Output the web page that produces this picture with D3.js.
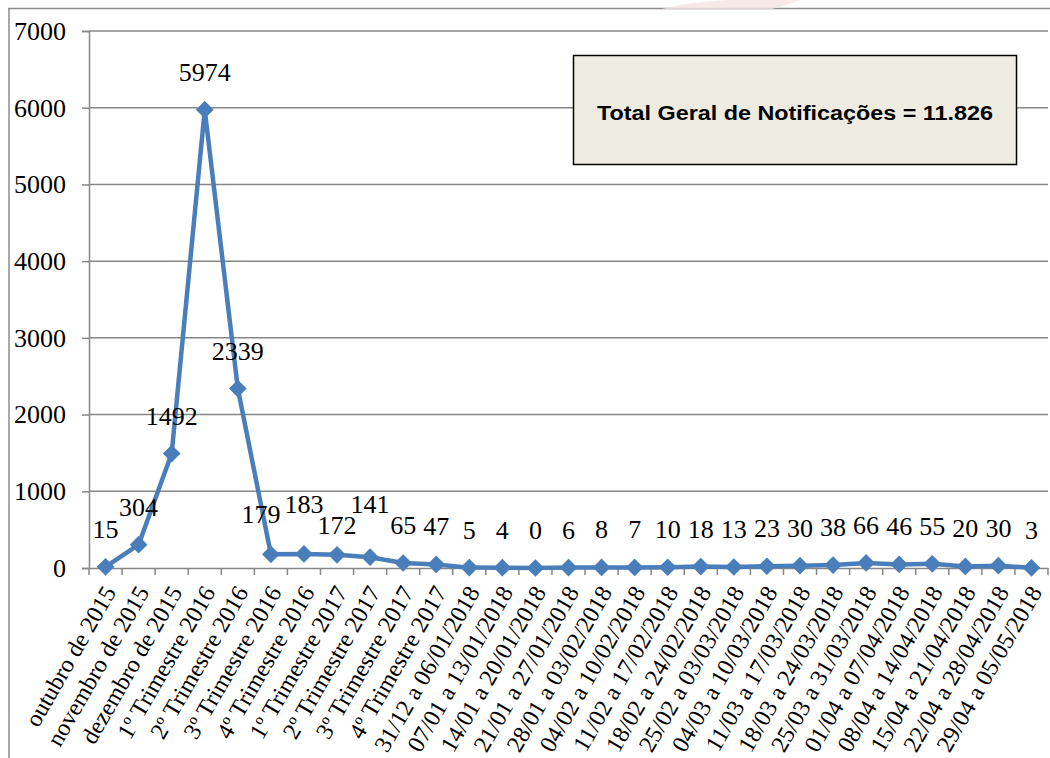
<!DOCTYPE html>
<html>
<head>
<meta charset="utf-8">
<script src="https://cdn.jsdelivr.net/npm/d3@7"></script>
<style>
  html, body { margin: 0; padding: 0; background: #ffffff; }
  svg { display: block; }
</style>
</head>
<body>
<svg id="chart" width="1050" height="758"></svg>
<script>
const categories = [
  "outubro de 2015", "novembro de 2015", "dezembro de 2015",
  "1º Trimestre 2016", "2º Trimestre 2016", "3º Trimestre 2016", "4º Trimestre 2016",
  "1º Trimestre 2017", "2º Trimestre 2017", "3º Trimestre 2017", "4º Trimestre 2017",
  "31/12 a 06/01/2018", "07/01 a 13/01/2018", "14/01 a 20/01/2018", "21/01 a 27/01/2018",
  "28/01 a 03/02/2018", "04/02 a 10/02/2018", "11/02 a 17/02/2018", "18/02 a 24/02/2018",
  "25/02 a 03/03/2018", "04/03 a 10/03/2018", "11/03 a 17/03/2018", "18/03 a 24/03/2018",
  "25/03 a 31/03/2018", "01/04 a 07/04/2018", "08/04 a 14/04/2018", "15/04 a 21/04/2018",
  "22/04 a 28/04/2018", "29/04 a 05/05/2018"
];
const values = [
  15, 304, 1492, 5974, 2339, 179, 183, 172, 141, 65, 47,
  5, 4, 0, 6, 8, 7, 10, 18, 13, 23, 30, 38, 66, 46, 55, 20, 30, 3
];
const yTicks = [0, 1000, 2000, 3000, 4000, 5000, 6000, 7000];
const totalLabel = "Total Geral de Notificações = 11.826";

// manual data-label nudges (label index -> [dx, dy]) as placed in the original
const labelNudge = { 5: [-10, -2], 6: [0, -12], 7: [0, 8], 8: [0, -15] };

const svg = d3.select("#chart");
const gridColor = "#868686";
const lineColor = "#4a7ebb";
const serif = "'Liberation Serif', 'Times New Roman', serif";

const plot = { left: 89, right: 1048, top: 31, bottom: 568 };

// outer frame
svg.append("line").attr("x1", 8).attr("x2", 1050).attr("y1", 8.5).attr("y2", 8.5)
  .attr("stroke", "#8c8c8c").attr("stroke-width", 1.5);
svg.append("line").attr("x1", 9).attr("x2", 9).attr("y1", 8).attr("y2", 758)
  .attr("stroke", "#8c8c8c").attr("stroke-width", 1.5);

// faint watermark fragment at top
svg.append("path")
  .attr("d", "M662,9 C690,2 720,0 735,0 L800,0 C790,4 780,7 772,9 Z")
  .attr("fill", "#f6e3e3").attr("opacity", 0.8);

const x = d3.scaleBand().domain(categories).range([plot.left, plot.right]);
const y = d3.scaleLinear().domain([0, 7000]).range([plot.bottom, plot.top]);

// gridlines
svg.append("g").selectAll("line").data(yTicks.filter(d => d > 0)).join("line")
  .attr("x1", plot.left).attr("x2", plot.right)
  .attr("y1", d => y(d)).attr("y2", d => y(d))
  .attr("stroke", gridColor).attr("stroke-width", 1.5);

// y axis
const yAxis = svg.append("g").attr("transform", `translate(${plot.left},0)`)
  .call(d3.axisLeft(y).tickValues(yTicks).tickSize(7).tickPadding(16).tickFormat(d3.format("d")));
yAxis.select(".domain").attr("stroke", gridColor).attr("stroke-width", 1.5);
yAxis.selectAll(".tick line").attr("stroke", gridColor).attr("stroke-width", 1.5);
yAxis.selectAll(".tick text")
  .attr("font-family", serif).attr("font-size", 26).attr("fill", "#000");

// x axis baseline and band-boundary ticks
const xAxis = svg.append("g").attr("transform", `translate(0,${plot.bottom})`)
  .call(d3.axisBottom(x).tickSize(0).tickPadding(0));
xAxis.select(".domain").attr("stroke", gridColor).attr("stroke-width", 1.5);
xAxis.selectAll(".tick text")
  .attr("font-family", serif).attr("font-size", 24).attr("fill", "#000")
  .attr("text-anchor", "end")
  .attr("dy", "0.35em")
  .attr("transform", `translate(4,20) rotate(-60)`);

const boundaries = categories.map(c => x(c)).concat([x.range()[1]]);
svg.append("g").selectAll("line").data(boundaries).join("line")
  .attr("x1", d => d).attr("x2", d => d)
  .attr("y1", plot.bottom).attr("y2", plot.bottom + 7)
  .attr("stroke", gridColor).attr("stroke-width", 1.5);

// line
const cx = (c) => x(c) + x.bandwidth() / 2;
const pts = categories.map((c, i) => ({ c, v: values[i], i }));
svg.append("path").datum(pts)
  .attr("fill", "none").attr("stroke", lineColor).attr("stroke-width", 4.5)
  .attr("stroke-linejoin", "round")
  .attr("d", d3.line().x(d => cx(d.c)).y(d => y(d.v)));

// diamond markers
const dsym = d3.symbol().type(d3.symbolDiamond2).size(200);
svg.append("g").selectAll("path").data(pts).join("path")
  .attr("d", dsym)
  .attr("transform", d => `translate(${cx(d.c)},${y(d.v)})`)
  .attr("fill", lineColor);

// data labels
svg.append("g").selectAll("text").data(pts).join("text")
  .attr("x", d => cx(d.c) + (labelNudge[d.i] ? labelNudge[d.i][0] : 0))
  .attr("y", d => y(d.v) - 29 + (labelNudge[d.i] ? labelNudge[d.i][1] : 0))
  .attr("text-anchor", "middle")
  .attr("font-family", serif).attr("font-size", 26).attr("fill", "#000")
  .text(d => d.v);

// total box
svg.append("rect").attr("x", 573.5).attr("y", 55.5).attr("width", 443).attr("height", 109)
  .attr("fill", "#eeece1").attr("stroke", "#000").attr("stroke-width", 1.5);
svg.append("text").attr("x", 795).attr("y", 120)
  .attr("text-anchor", "middle")
  .attr("font-family", "'Liberation Sans', Arial, sans-serif").attr("font-weight", "bold")
  .attr("font-size", 20).attr("fill", "#000")
  .attr("textLength", 396).attr("lengthAdjust", "spacingAndGlyphs")
  .text(totalLabel);
</script>
</body>
</html>
